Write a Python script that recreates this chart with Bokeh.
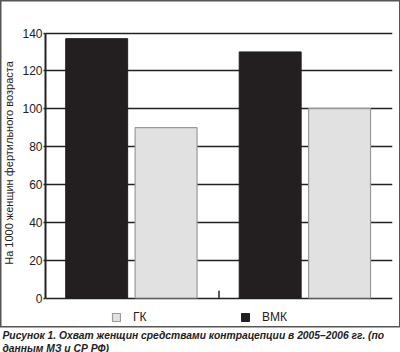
from bokeh.plotting import figure
from bokeh.models import (ColumnDataSource, Legend, LegendItem, Title,
                          FixedTicker, Range1d)
from bokeh.transform import dodge
from bokeh.embed import file_html
from bokeh.resources import INLINE

groups = [0.5, 1.5]          # two group positions (2005, 2006)
gk_values = [90, 100]
vmk_values = [137, 130]
series_labels = ["ГК", "ВМК"]
y_ticks = [0, 20, 40, 60, 80, 100, 120, 140]
y_label = "На 1000 женщин фертильного возраста"
caption1 = "Рисунок 1. Охват женщин средствами контрацепции в 2005–2006 гг. (по"
caption2 = "данным МЗ и СР РФ)"

FONT = "Liberation Sans"
INK = "#222222"

src = ColumnDataSource(dict(x=groups, gk=gk_values, vmk=vmk_values))

# frame: x 45..392, y 0..325 ; value 0 at 297.5px, 140 at 32.5px
PPU = 265.0 / 140.0
p = figure(width=400, height=352, title=None,
           x_range=Range1d(0, 2), y_range=Range1d(-(325 - 297.5) / PPU, 140 + 32.5 / PPU),
           output_backend="svg", toolbar_location=None,
           min_border_left=45, min_border_right=8, min_border_top=0, min_border_bottom=27)
p.background_fill_color = None
p.border_fill_color = None
p.outline_line_color = None
# outer frame of the figure (excluding caption), drawn behind the transparent canvas
p.stylesheets = [
    ":host { background-color: white;"
    " background-image: linear-gradient(#555,#555), linear-gradient(#555,#555),"
    " linear-gradient(#555,#555), linear-gradient(#555,#555);"
    " background-size: 400px 1.5px, 1.5px 327px, 1.5px 327px, 400px 1.5px;"
    " background-position: 0 0, 0 0, 398.5px 0, 0 325.5px;"
    " background-repeat: no-repeat; }"
]

bw = 0.357
r_vmk = p.vbar(x=dodge("x", -0.205, range=p.x_range), top="vmk", width=bw, source=src,
               fill_color="#231f20", line_color="#231f20", line_width=1)
r_gk = p.vbar(x=dodge("x", 0.195, range=p.x_range), top="gk", width=bw, source=src,
              fill_color="#e1e1e2", line_color="#9a9a9a", line_width=1.2)

# category separator tick
p.segment(x0=[1.0], y0=[0], x1=[1.0], y1=[3.8], line_color=INK, line_width=1.5)

p.xaxis.visible = False
p.yaxis.bounds = (0, 140)
p.yaxis.ticker = FixedTicker(ticks=y_ticks)
p.yaxis.major_tick_line_color = INK
p.yaxis.major_tick_line_width = 1.6
p.yaxis.major_tick_out = 2
p.yaxis.major_tick_in = 0
p.yaxis.minor_tick_line_color = None
p.yaxis.minor_tick_out = 0
p.yaxis.minor_tick_in = 0
p.yaxis.major_label_standoff = 1
p.yaxis.major_label_text_font = FONT
p.yaxis.major_label_text_font_size = "12px"
p.yaxis.major_label_text_color = INK
p.yaxis.axis_line_color = INK
p.yaxis.axis_line_width = 2
p.yaxis.axis_label = y_label
p.yaxis.axis_label_text_font = FONT
p.yaxis.axis_label_text_font_size = "11px"
p.yaxis.axis_label_text_font_style = "normal"
p.yaxis.axis_label_text_color = INK
p.yaxis.axis_label_standoff = 4

p.xgrid.visible = False
p.ygrid.ticker = FixedTicker(ticks=y_ticks)
p.ygrid.grid_line_color = INK
p.ygrid.grid_line_width = 1.6

legend = Legend(items=[LegendItem(label=series_labels[0], renderers=[r_gk]),
                       LegendItem(label=series_labels[1], renderers=[r_vmk])],
                orientation="horizontal", location=(66, 1),
                glyph_width=10, glyph_height=10, label_standoff=12, spacing=87,
                label_text_font=FONT, label_text_font_size="12px", label_text_color=INK,
                border_line_color=None, background_fill_alpha=0, padding=0, margin=0)
p.add_layout(legend)

for txt, so in ((caption1, 5), (caption2, -6)):
    p.add_layout(Title(text=txt, align="left", offset=-43, standoff=so,
                       text_font=FONT, text_font_style="bold italic",
                       text_font_size="10.3px", text_color=INK), "below")

open("out.html", "w").write(file_html(p, INLINE))
